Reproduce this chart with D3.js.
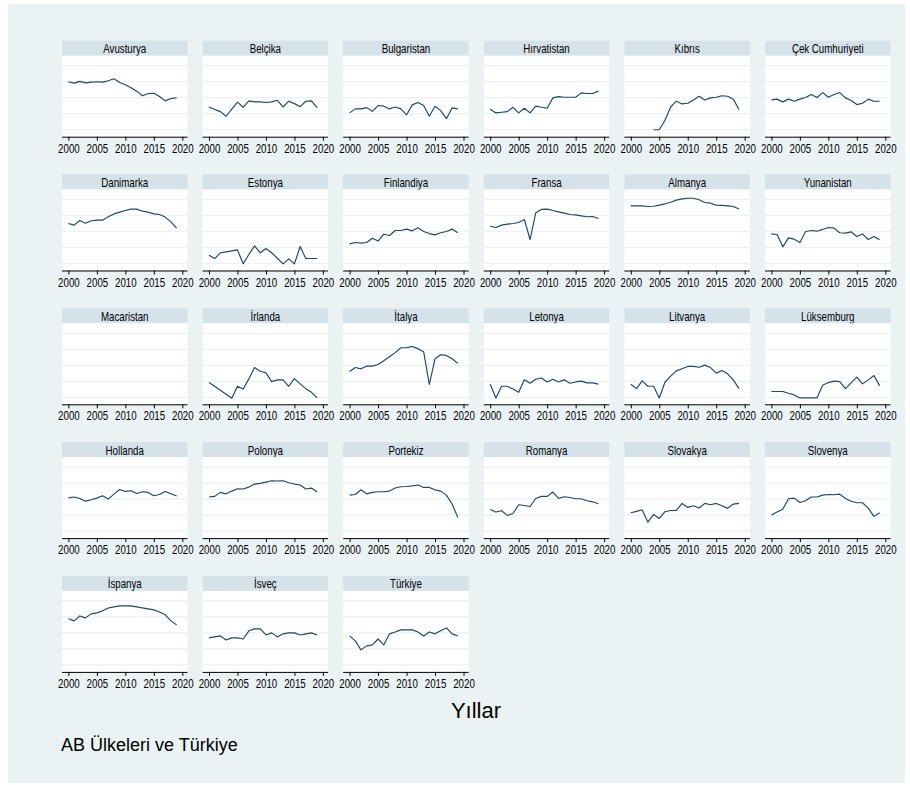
<!DOCTYPE html>
<html>
<head>
<meta charset="utf-8">
<script src="https://cdn.jsdelivr.net/npm/d3@7"></script>
<style>
  html, body { margin: 0; padding: 0; background: #ffffff; }
  svg { display: block; }
  text { font-family: "Liberation Sans", Arial, sans-serif; }
</style>
</head>
<body>
<svg id="chart" width="910" height="785"></svg>
<script>
// Years on the x axis
const years = [2000, 2001, 2002, 2003, 2004, 2005, 2006, 2007, 2008, 2009,
               2010, 2011, 2012, 2013, 2014, 2015, 2016, 2017, 2018, 2019];
const xTicks = [2000, 2005, 2010, 2015, 2020];
const yGrid = [-2, -1, 0, 1, 2];

// Panel order (6 per row)
const countries = ["Avusturya", "Belçika", "Bulgaristan", "Hırvatistan", "Kıbrıs", "Çek Cumhuriyeti",
                   "Danimarka", "Estonya", "Finlandiya", "Fransa", "Almanya", "Yunanistan",
                   "Macaristan", "İrlanda", "İtalya", "Letonya", "Litvanya", "Lüksemburg",
                   "Hollanda", "Polonya", "Portekiz", "Romanya", "Slovakya", "Slovenya",
                   "İspanya", "İsveç", "Türkiye"];

// Yearly values per country, 2000–2019 (null = no observation)
const avusturya  = [1.00, 0.91, 1.02, 0.93, 0.97, 1.00, 0.97, 1.06, 1.18, 0.95, 0.81, 0.62, 0.41, 0.12, 0.26, 0.28, 0.07, -0.20, -0.05, -0.01];
const belcika    = [-0.58, -0.74, -0.87, -1.16, -0.72, -0.28, -0.60, -0.20, -0.26, -0.26, -0.30, -0.26, -0.16, -0.58, -0.22, -0.37, -0.56, -0.22, -0.20, -0.64];
const bulgaristan= [-0.95, -0.70, -0.70, -0.62, -0.85, -0.49, -0.53, -0.70, -0.58, -0.70, -1.08, -0.45, -0.30, -0.49, -1.16, -0.53, -0.81, -1.31, -0.64, -0.70];
const hirvatistan= [-0.72, -0.95, -0.91, -0.87, -0.60, -0.95, -0.66, -0.95, -0.53, -0.60, -0.66, -0.01, 0.07, 0.03, 0.03, 0.03, 0.30, 0.26, 0.26, 0.41];
const kibris     = [null, null, null, null, -2.00, -2.00, -1.41, -0.58, -0.22, -0.39, -0.35, -0.14, 0.09, -0.14, -0.01, 0.03, 0.12, 0.09, -0.09, -0.74];
const cek        = [-0.14, -0.09, -0.26, -0.09, -0.22, -0.09, 0.01, 0.20, 0.01, 0.32, 0.03, 0.20, 0.32, -0.01, -0.18, -0.43, -0.35, -0.09, -0.22, -0.22];
const danimarka  = [0.50, 0.40, 0.69, 0.52, 0.67, 0.71, 0.71, 0.92, 1.10, 1.21, 1.31, 1.40, 1.40, 1.27, 1.21, 1.10, 1.06, 0.90, 0.60, 0.21];
const estonya    = [-1.48, -1.69, -1.33, -1.27, -1.21, -1.15, -2.02, -1.44, -0.90, -1.33, -1.06, -1.33, -1.67, -2.02, -1.71, -2.02, -0.94, -1.69, -1.69, -1.69];
const finlandiya = [-0.77, -0.69, -0.73, -0.69, -0.42, -0.60, -0.17, -0.25, 0.06, 0.06, 0.15, 0.04, 0.23, 0.00, -0.13, -0.21, -0.08, 0.00, 0.15, -0.08];
const fransa     = [0.33, 0.25, 0.40, 0.46, 0.50, 0.56, 0.75, -0.50, 1.17, 1.38, 1.40, 1.31, 1.23, 1.15, 1.06, 1.04, 0.98, 0.92, 0.94, 0.81];
const almanya    = [1.60, 1.60, 1.60, 1.56, 1.58, 1.65, 1.73, 1.83, 1.96, 2.04, 2.08, 2.08, 1.98, 1.81, 1.77, 1.65, 1.63, 1.60, 1.56, 1.40];
const yunanistan = [-0.15, -0.19, -0.96, -0.40, -0.48, -0.69, 0.00, 0.06, 0.02, 0.13, 0.25, 0.21, -0.08, -0.10, -0.02, -0.31, -0.15, -0.50, -0.31, -0.52];
const macaristan = [null, null, null, null, null, null, null, null, null, null, null, null, null, null, null, null, null, null, null, null];
const irlanda    = [-1.08, -1.31, -1.56, -1.81, -2.06, -1.31, -1.48, -0.85, -0.14, -0.37, -0.47, -1.02, -0.91, -0.91, -1.31, -0.83, -1.16, -1.46, -1.69, -2.04];
const italya     = [-0.39, -0.14, -0.22, -0.05, -0.05, 0.05, 0.28, 0.53, 0.79, 1.10, 1.10, 1.18, 1.04, 0.85, -1.20, 0.41, 0.66, 0.62, 0.41, 0.12];
const letonya    = [-1.18, -2.04, -1.31, -1.31, -1.48, -1.69, -0.91, -1.12, -0.87, -0.79, -1.04, -0.87, -1.04, -0.91, -1.12, -1.04, -0.99, -1.10, -1.10, -1.18];
const litvanya   = [-1.18, -1.46, -0.97, -1.31, -1.31, -2.04, -1.06, -0.68, -0.35, -0.22, -0.07, -0.07, -0.12, 0.01, -0.14, -0.49, -0.32, -0.53, -0.91, -1.46];
const luksemburg = [-1.64, -1.64, -1.64, -1.75, -1.85, -2.04, -2.04, -2.04, -2.04, -1.25, -1.08, -0.99, -1.02, -1.46, -1.10, -0.74, -1.16, -0.91, -0.64, -1.27];
const hollanda   = [0.08, 0.13, 0.04, -0.13, -0.04, 0.06, 0.21, 0.00, 0.31, 0.60, 0.48, 0.52, 0.35, 0.46, 0.42, 0.21, 0.29, 0.48, 0.33, 0.19];
const polonya    = [0.13, 0.17, 0.42, 0.33, 0.50, 0.65, 0.63, 0.75, 0.94, 0.98, 1.06, 1.15, 1.13, 1.15, 1.02, 0.94, 0.88, 0.63, 0.69, 0.44];
const portekiz   = [0.25, 0.29, 0.58, 0.33, 0.42, 0.46, 0.46, 0.50, 0.69, 0.77, 0.79, 0.83, 0.88, 0.73, 0.73, 0.58, 0.50, 0.25, -0.31, -1.15];
const romanya    = [-0.65, -0.81, -0.73, -1.02, -0.90, -0.35, -0.40, -0.46, 0.04, 0.17, 0.17, 0.44, 0.04, 0.15, 0.10, 0.02, 0.02, -0.10, -0.17, -0.29];
const slovakya   = [-0.85, -0.77, -0.67, -1.44, -0.96, -1.21, -0.79, -0.71, -0.71, -0.27, -0.52, -0.42, -0.56, -0.27, -0.35, -0.27, -0.42, -0.58, -0.31, -0.27];
const slovenya   = [-1.00, -0.81, -0.63, 0.02, 0.06, -0.21, -0.10, 0.13, 0.13, 0.25, 0.29, 0.27, 0.31, 0.04, -0.13, -0.23, -0.23, -0.56, -1.08, -0.85];
const ispanya    = [0.88, 0.75, 1.06, 0.94, 1.19, 1.25, 1.38, 1.56, 1.63, 1.69, 1.69, 1.69, 1.63, 1.56, 1.50, 1.44, 1.31, 1.13, 0.75, 0.50];
const isvec      = [-0.31, -0.25, -0.19, -0.44, -0.31, -0.31, -0.38, 0.13, 0.25, 0.25, -0.13, 0.00, -0.25, -0.06, 0.00, 0.00, -0.13, -0.06, 0.00, -0.13];
const turkiye    = [-0.19, -0.50, -1.06, -0.81, -0.75, -0.38, -0.75, -0.06, 0.06, 0.19, 0.19, 0.19, 0.06, -0.19, 0.06, -0.06, 0.13, 0.31, -0.06, -0.19];

const seriesList = [avusturya, belcika, bulgaristan, hirvatistan, kibris, cek,
                    danimarka, estonya, finlandiya, fransa, almanya, yunanistan,
                    macaristan, irlanda, italya, letonya, litvanya, luksemburg,
                    hollanda, polonya, portekiz, romanya, slovakya, slovenya,
                    ispanya, isvec, turkiye];

// ---- layout ----
const svg = d3.select("#chart");

const colors = {
  region: "#eaf2f3",
  strip: "#d6e2e9",
  plot: "#ffffff",
  grid: "#eaf2f3",
  line: "#1a476f",
  axis: "#000000"
};

// outer graph region
svg.append("rect")
  .attr("x", 8).attr("y", 4)
  .attr("width", 897).attr("height", 779)
  .attr("fill", colors.region);

const nCols = 6;
const colLeft0 = 62, colPitch = 140.6, panelW = 125.5;
const rowTop0 = 40.7, rowPitch = 133.8;
const stripH = 15, plotH = 81;
const squeeze = 0.81;   // narrow lettering for panel titles and tick labels

const fmt = d3.format("d");

countries.forEach((name, i) => {
  const col = i % nCols, row = Math.floor(i / nCols);
  const left = colLeft0 + col * colPitch;
  const top = rowTop0 + row * rowPitch;
  const plotTop = top + stripH;
  const axisY = plotTop + plotH;

  const x = d3.scaleLinear().domain([2000, 2020]).range([left + 6.4, left + 120.3]);
  const y = d3.scaleLinear().domain([-2.4375, 2.625]).range([axisY, plotTop]);

  const g = svg.append("g");

  // title strip
  g.append("rect")
    .attr("x", left).attr("y", top)
    .attr("width", panelW).attr("height", stripH)
    .attr("fill", colors.strip);
  g.append("g")
    .attr("transform", `translate(${left + panelW / 2},${top + 12.4})`)
    .append("text")
    .attr("transform", `scale(${squeeze},1)`)
    .attr("text-anchor", "middle")
    .attr("font-size", 12)
    .attr("fill", "#000")
    .text(name);

  // plot region
  g.append("rect")
    .attr("x", left).attr("y", plotTop)
    .attr("width", panelW).attr("height", plotH)
    .attr("fill", colors.plot);

  // horizontal grid
  g.selectAll("line.grid").data(yGrid).join("line")
    .attr("class", "grid")
    .attr("x1", left).attr("x2", left + panelW)
    .attr("y1", d => y(d)).attr("y2", d => y(d))
    .attr("stroke", colors.grid)
    .attr("stroke-width", 1.2);

  // series line
  const line = d3.line()
    .defined(d => d[1] !== null)
    .x(d => x(d[0]))
    .y(d => y(d[1]));
  const pts = years.map((yr, k) => [yr, seriesList[i][k]]);
  g.append("path")
    .datum(pts)
    .attr("d", line)
    .attr("fill", "none")
    .attr("stroke", colors.line)
    .attr("stroke-width", 1.15)
    .attr("stroke-linejoin", "round");

  // x axis
  const xAxis = d3.axisBottom(x)
    .tickValues(xTicks)
    .tickFormat(fmt)
    .tickSize(4)
    .tickSizeOuter(0)
    .tickPadding(3.5);
  const ax = g.append("g")
    .attr("transform", `translate(0,${axisY})`)
    .call(xAxis);
  ax.select(".domain").remove();
  ax.append("line")
    .attr("x1", left).attr("x2", left + panelW)
    .attr("y1", 0.5).attr("y2", 0.5)
    .attr("stroke", colors.axis).attr("stroke-width", 1);
  ax.selectAll(".tick line").attr("stroke", colors.axis);
  ax.selectAll(".tick text")
    .attr("font-size", 12)
    .attr("fill", "#000")
    .attr("font-family", "'Liberation Sans', Arial, sans-serif")
    .attr("transform", `scale(${squeeze},1)`);
});

// axis title
svg.append("text")
  .attr("x", 476).attr("y", 718)
  .attr("text-anchor", "middle")
  .attr("font-size", 22)
  .attr("fill", "#000")
  .text("Yıllar");

// note
svg.append("text")
  .attr("x", 61).attr("y", 751)
  .attr("font-size", 18)
  .attr("fill", "#000")
  .text("AB Ülkeleri ve Türkiye");
</script>
</body>
</html>
